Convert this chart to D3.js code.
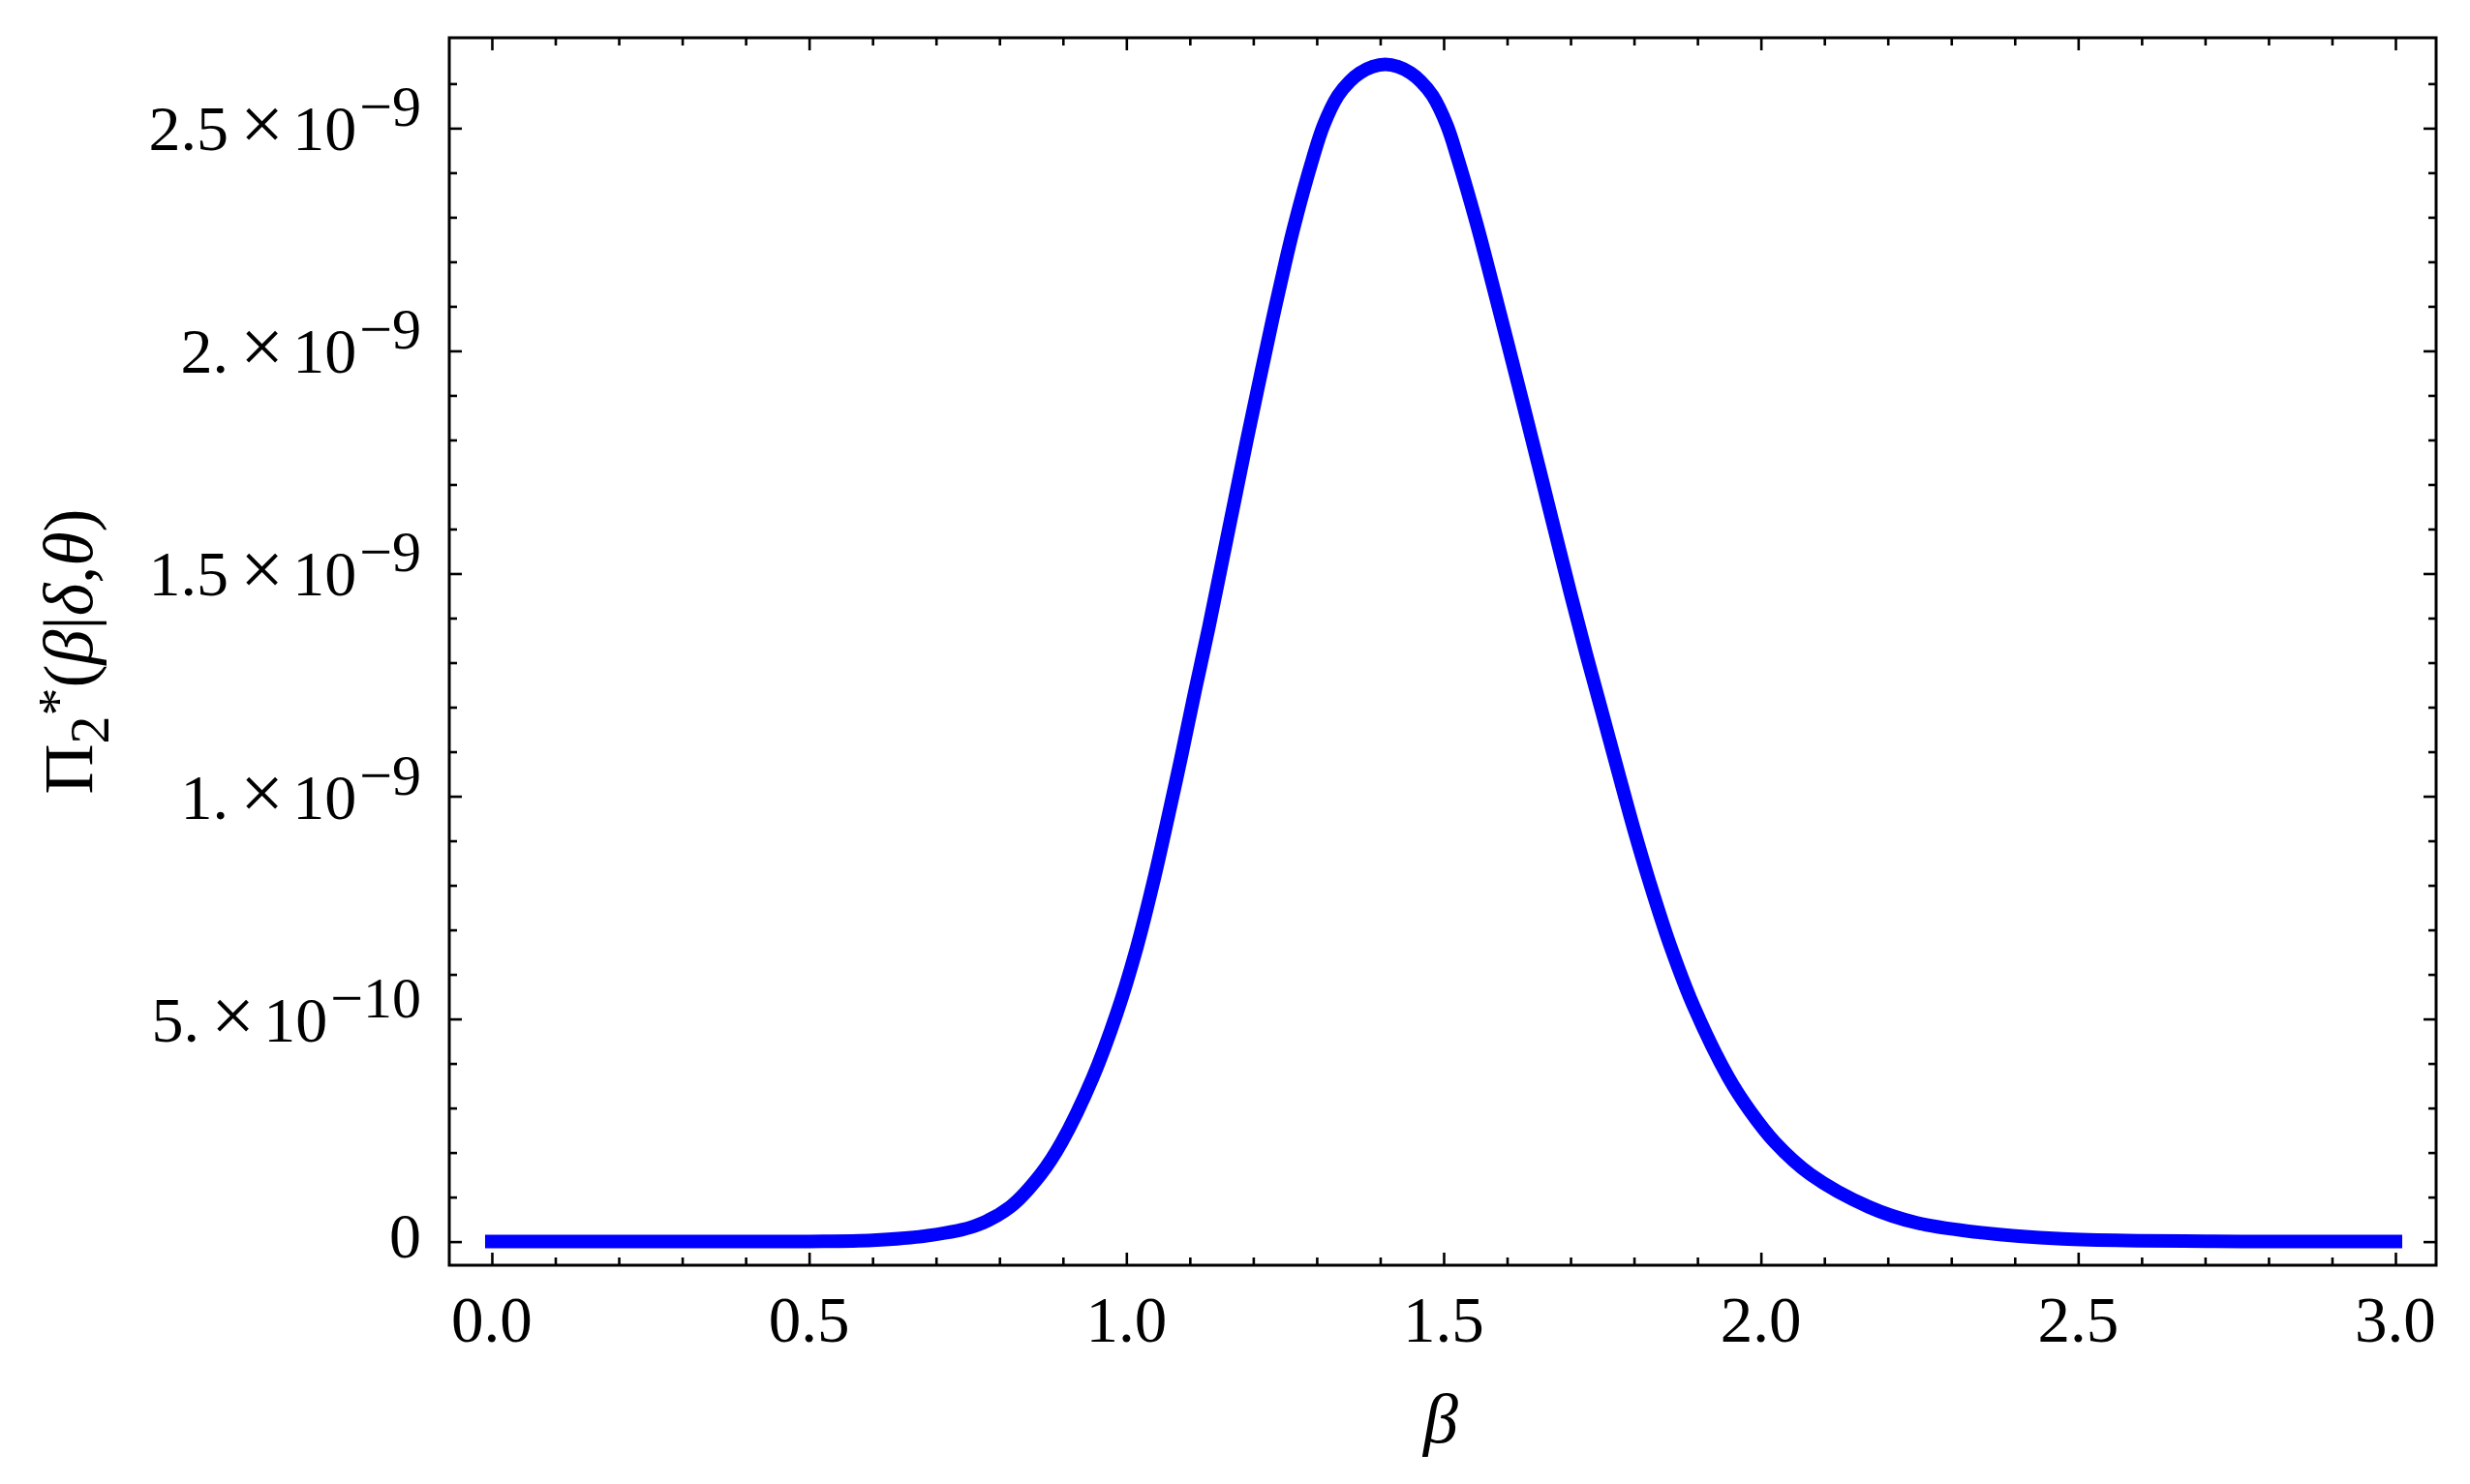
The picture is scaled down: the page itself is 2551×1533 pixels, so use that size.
<!DOCTYPE html>
<html>
<head>
<meta charset="utf-8">
<script src="https://cdn.jsdelivr.net/npm/d3@7/dist/d3.min.js"></script>
<style>
  html, body { margin: 0; padding: 0; background: #ffffff; }
  svg { display: block; }
  text { font-family: "Liberation Serif", "Times New Roman", serif; fill: #000; }
</style>
</head>
<body>
<svg id="chart" width="2551" height="1533"></svg>
<script>
// ---- data ----
const PI_UNIT = 1e-9;
const betaValues = [0, 0.1, 0.2, 0.3, 0.4, 0.5, 0.6, 0.685, 0.761, 0.817, 0.865, 0.898, 0.947, 0.985,
  1.016, 1.043, 1.066, 1.087, 1.108, 1.130, 1.150, 1.170, 1.190, 1.210, 1.230, 1.250, 1.2645, 1.294,
  1.311, 1.3335, 1.352, 1.368, 1.388, 1.408, 1.428, 1.448, 1.464, 1.4825, 1.505, 1.522, 1.5515, 1.577,
  1.600, 1.625, 1.650, 1.675, 1.700, 1.725, 1.750, 1.775, 1.800, 1.825, 1.857, 1.895, 1.949, 1.982,
  2.022, 2.078, 2.170, 2.246, 2.348, 2.475, 2.6, 2.7, 2.8, 2.9, 3.0];
// Π2*(β|δ,θ) in units of 1e-9
const piValues = [0, 0, 0, 0, 0, 0.0005, 0.003, 0.013, 0.035, 0.078, 0.151, 0.223, 0.368, 0.513,
  0.658, 0.810, 0.955, 1.092, 1.235, 1.380, 1.520, 1.660, 1.800, 1.935, 2.068, 2.195, 2.281, 2.433,
  2.507, 2.573, 2.605, 2.624, 2.638, 2.643, 2.638, 2.624, 2.605, 2.573, 2.507, 2.433, 2.288, 2.150,
  2.022, 1.882, 1.740, 1.597, 1.455, 1.318, 1.187, 1.055, 0.925, 0.805, 0.665, 0.525, 0.368, 0.295,
  0.223, 0.151, 0.078, 0.042, 0.020, 0.006, 0.002, 0.001, 0, 0, 0];

const xMajorTicks = [0, 0.5, 1.0, 1.5, 2.0, 2.5, 3.0];
const xTickLabels = ["0.0", "0.5", "1.0", "1.5", "2.0", "2.5", "3.0"];
const xMinorTicks = d3.range(0, 31).map(i => i / 10).filter(v => Math.abs(v * 2 - Math.round(v * 2)) > 1e-9);

const yMajorTicks = [0, 0.5, 1.0, 1.5, 2.0, 2.5].map(v => v * PI_UNIT);
const yTickMantissa = ["0", "5.", "1.", "1.5", "2.", "2.5"];
const yTickExponent = [null, "\u221210", "\u22129", "\u22129", "\u22129", "\u22129"];
const yMinorTicks = d3.range(1, 27).map(i => i / 10).filter(v => Math.abs(v * 2 - Math.round(v * 2)) > 1e-9).map(v => v * PI_UNIT);

const xTitle = "\u03B2";

// ---- layout ----
const plotLeft = 464, plotRight = 2516, plotTop = 39, plotBottom = 1307;
const svg = d3.select("#chart");

const x = d3.scaleLinear().domain([-0.0671, 3.0641]).range([plotLeft, plotRight]);
const y = d3.scaleLinear().domain([-0.053 * PI_UNIT, 2.703 * PI_UNIT]).range([plotBottom, plotTop]);

const data = betaValues.map((b, i) => ({ b: b, v: piValues[i] * PI_UNIT }));

// curve
const line = d3.line().x(d => x(d.b)).y(d => y(d.v)).curve(d3.curveCatmullRom.alpha(0.5));
svg.append("path")
  .datum(data)
  .attr("d", line)
  .attr("fill", "none")
  .attr("stroke", "#0000ff")
  .attr("stroke-width", 14)
  .attr("stroke-linecap", "square")
  .attr("stroke-linejoin", "round");

// ticks via d3 axes (inward)
const MAJ = 13, MIN = 8;
function styleAxis(g) {
  g.select(".domain").remove();
  g.selectAll(".tick line").attr("stroke", "#000").attr("stroke-width", 2.6);
  g.selectAll(".tick text").remove();
}
svg.append("g").attr("transform", `translate(0,${plotBottom})`)
  .call(d3.axisBottom(x).tickValues(xMajorTicks).tickSize(-MAJ).tickSizeOuter(0)).call(styleAxis);
svg.append("g").attr("transform", `translate(0,${plotBottom})`)
  .call(d3.axisBottom(x).tickValues(xMinorTicks).tickSize(-MIN).tickSizeOuter(0)).call(styleAxis);
svg.append("g").attr("transform", `translate(0,${plotTop})`)
  .call(d3.axisTop(x).tickValues(xMajorTicks).tickSize(-MAJ).tickSizeOuter(0)).call(styleAxis);
svg.append("g").attr("transform", `translate(0,${plotTop})`)
  .call(d3.axisTop(x).tickValues(xMinorTicks).tickSize(-MIN).tickSizeOuter(0)).call(styleAxis);
svg.append("g").attr("transform", `translate(${plotLeft},0)`)
  .call(d3.axisLeft(y).tickValues(yMajorTicks).tickSize(-MAJ).tickSizeOuter(0)).call(styleAxis);
svg.append("g").attr("transform", `translate(${plotLeft},0)`)
  .call(d3.axisLeft(y).tickValues(yMinorTicks).tickSize(-MIN).tickSizeOuter(0)).call(styleAxis);
svg.append("g").attr("transform", `translate(${plotRight},0)`)
  .call(d3.axisRight(y).tickValues(yMajorTicks).tickSize(-MAJ).tickSizeOuter(0)).call(styleAxis);
svg.append("g").attr("transform", `translate(${plotRight},0)`)
  .call(d3.axisRight(y).tickValues(yMinorTicks).tickSize(-MIN).tickSizeOuter(0)).call(styleAxis);

// frame
svg.append("rect")
  .attr("x", plotLeft).attr("y", plotTop)
  .attr("width", plotRight - plotLeft).attr("height", plotBottom - plotTop)
  .attr("fill", "none").attr("stroke", "#000").attr("stroke-width", 3);

// x tick labels
svg.append("g").selectAll("text")
  .data(xMajorTicks)
  .join("text")
  .attr("x", d => x(d))
  .attr("y", 1386)
  .attr("text-anchor", "middle")
  .attr("font-size", 67)
  .text((d, i) => xTickLabels[i]);

// y tick labels
const yl = svg.append("g").selectAll("text")
  .data(yMajorTicks)
  .join("text")
  .attr("x", 435)
  .attr("y", (d, i) => y(d) + (yTickExponent[i] ? 23 : 16))
  .attr("text-anchor", "end")
  .attr("font-size", 66);
yl.each(function(d, i) {
  const t = d3.select(this);
  t.append("tspan").text(yTickMantissa[i]);
  if (yTickExponent[i]) {
    t.append("tspan").attr("dx", 12).attr("font-size", 80).text("\u00D7");
    t.append("tspan").attr("dx", 9).text("10");
    t.append("tspan").attr("dx", 3).attr("dy", -25).attr("font-size", 60).text(yTickExponent[i]);
  }
});

// x axis title
svg.append("text")
  .attr("x", 1488).attr("y", 1490)
  .attr("text-anchor", "middle")
  .attr("font-size", 72)
  .attr("font-style", "italic")
  .text(xTitle);

// y axis title  Π2*(β|δ,θ)
const yt = svg.append("text")
  .attr("transform", "translate(95,673) rotate(-90)")
  .attr("text-anchor", "middle")
  .attr("font-size", 72);
yt.append("tspan").text("\u03A0");
yt.append("tspan").attr("font-size", 58).attr("dy", 17).text("2");
yt.append("tspan").attr("font-size", 58).attr("dy", -33).text("*");
yt.append("tspan").attr("dy", 16).text("(");
yt.append("tspan").attr("font-style", "italic").text("\u03B2");
yt.append("tspan").text("|");
yt.append("tspan").attr("font-style", "italic").text("\u03B4");
yt.append("tspan").text(",");
yt.append("tspan").attr("font-style", "italic").text("\u03B8");
yt.append("tspan").text(")");
</script>
</body>
</html>
